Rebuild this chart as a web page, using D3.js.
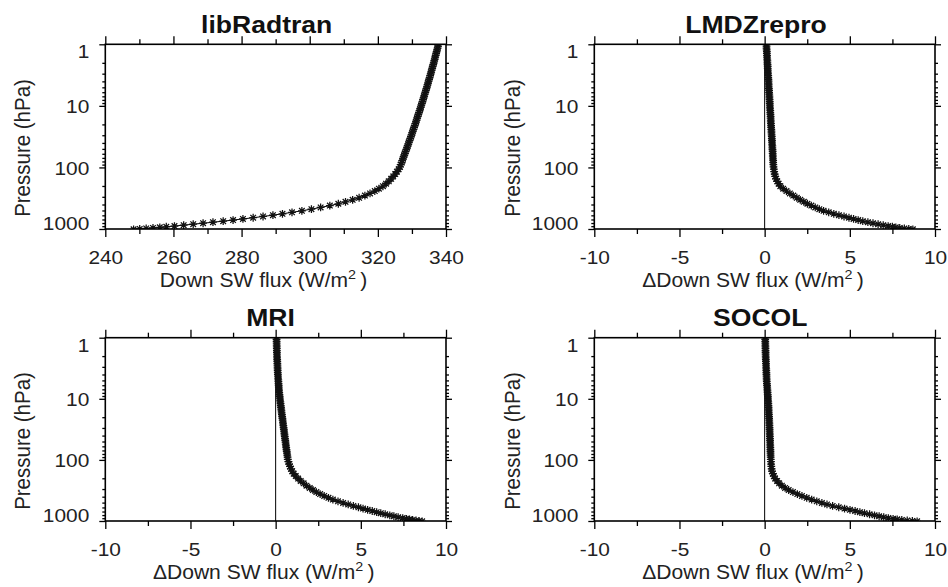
<!DOCTYPE html>
<html><head><meta charset="utf-8">
<script src="https://cdn.jsdelivr.net/npm/d3@7/dist/d3.min.js"></script>
<style>html,body{margin:0;padding:0;background:#fff;}svg{display:block;}</style>
</head><body>
<svg id="chart" width="948" height="587"></svg>
<script>
// ---------------- DATA ----------------
const titles = ["libRadtran", "LMDZrepro", "MRI", "SOCOL"];
const xLabelMain = "Down SW flux (W/m";
const xLabelDelta = "\u0394Down SW flux (W/m";
const yLabel = "Pressure (hPa)";

const yTicks = [1, 10, 100, 1000];
const yMinorTicks = [2,3,4,5,6,7,8,9,20,30,40,50,60,70,80,90,200,300,400,500,600,700,800,900];
const xTicksAbs = [240, 260, 280, 300, 320, 340];
const xMinorAbs = [250, 270, 290, 310, 330];
const xTicksDelta = [-10, -5, 0, 5, 10];
const xMinorDelta = [-7.5, -2.5, 2.5, 7.5];

// pressure levels (hPa), surface -> top
const pressure = [1013,996,978,959,940,920,895,866,836,806,776,746,716,686,656,626,596,566,536,506,
  476,446,417,389,362,336,311,287,264,242,221,202,184,168,153,140,128,117,107,98,90,
  83.2,77.6,72.4,67.6,63.1,58.9,55.0,51.3,47.9,44.7,41.7,38.9,36.3,33.9,31.6,29.5,27.5,25.7,24.0,22.4,
  20.9,19.5,18.2,17.0,15.8,14.8,13.8,12.9,12.0,11.2,10.5,9.77,9.12,8.51,7.94,7.41,6.92,6.46,6.03,5.62,
  5.25,4.90,4.57,4.27,3.98,3.72,3.47,3.24,3.02,2.82,2.63,2.45,2.29,2.14,2.00,1.86,1.74,1.62,1.51,1.41,
  1.32,1.23,1.15,1.07,1.00];

// libRadtran downward SW flux (W/m2)
const fluxLibRadtran = [248.3,250.1,252.0,254.0,256.0,257.9,260.3,263.0,265.8,268.7,271.6,274.6,277.5,280.4,283.4,286.3,289.2,292.0,294.8,297.7,
  300.5,303.2,305.9,308.4,310.5,312.6,314.5,316.2,317.7,319.1,320.3,321.5,322.4,323.2,323.9,324.5,325.1,325.6,326.1,326.5,326.7,
  327.0,327.15,327.35,327.56,327.76,327.96,328.15,328.35,328.55,328.74,328.94,329.13,329.32,329.51,329.7,329.89,330.08,330.26,330.45,330.63,
  330.82,331.0,331.18,331.36,331.54,331.71,331.89,332.07,332.24,332.41,332.59,332.76,332.93,333.1,333.26,333.43,333.6,333.76,333.93,334.09,
  334.25,334.41,334.57,334.73,334.88,335.04,335.2,335.35,335.5,335.65,335.8,335.95,336.1,336.25,336.4,336.54,336.69,336.83,336.97,337.11,
  337.25,337.39,337.53,337.66,337.8];

// model minus libRadtran (W/m2)
const deltaLMDZrepro = [8.70,8.46,8.20,7.93,7.70,7.50,7.25,6.96,6.66,6.36,6.06,5.76,5.49,5.22,4.95,4.66,4.36,4.06,3.76,3.46,
  3.21,2.97,2.74,2.51,2.30,2.09,1.89,1.68,1.48,1.28,1.09,0.92,0.82,0.74,0.67,0.62,0.59,0.56,0.54,0.52,0.51,
  0.50,0.50,0.49,0.48,0.48,0.47,0.47,0.46,0.45,0.45,0.44,0.43,0.43,0.42,0.42,0.41,0.40,0.40,0.39,0.38,
  0.38,0.37,0.36,0.36,0.35,0.35,0.34,0.33,0.33,0.32,0.31,0.31,0.30,0.30,0.29,0.28,0.28,0.27,0.26,0.26,
  0.25,0.24,0.24,0.23,0.23,0.22,0.21,0.21,0.20,0.19,0.19,0.18,0.18,0.17,0.16,0.16,0.15,0.14,0.14,0.13,
  0.13,0.12,0.11,0.11,0.10];

const deltaMRI = [8.60,8.42,8.24,8.04,7.86,7.68,7.46,7.19,6.94,6.70,6.43,6.17,5.93,5.67,5.40,5.13,4.86,4.56,4.26,3.96,
  3.66,3.36,3.10,2.85,2.61,2.39,2.19,2.00,1.81,1.64,1.47,1.32,1.18,1.06,0.97,0.90,0.84,0.79,0.75,0.71,0.70,
  0.68,0.665,0.65,0.635,0.62,0.606,0.592,0.578,0.564,0.55,0.536,0.522,0.508,0.494,0.48,0.466,0.452,0.438,0.424,0.41,
  0.396,0.382,0.368,0.354,0.34,0.327,0.314,0.301,0.288,0.275,0.262,0.249,0.236,0.223,0.21,0.202,0.194,0.186,0.178,0.17,
  0.162,0.154,0.146,0.138,0.13,0.125,0.12,0.115,0.11,0.105,0.10,0.095,0.09,0.085,0.08,0.077,0.074,0.071,0.068,0.065,
  0.062,0.059,0.056,0.053,0.05];

const deltaSOCOL = [8.95,8.67,8.37,8.05,7.78,7.54,7.26,6.99,6.72,6.45,6.16,5.86,5.59,5.31,5.01,4.69,4.35,3.99,3.66,3.36,
  3.06,2.76,2.47,2.19,1.92,1.66,1.41,1.20,1.01,0.85,0.73,0.61,0.54,0.48,0.43,0.41,0.39,0.38,0.37,0.36,0.355,
  0.349,0.345,0.341,0.337,0.333,0.329,0.325,0.321,0.317,0.313,0.308,0.304,0.299,0.295,0.29,0.286,0.281,0.277,0.272,0.268,
  0.263,0.258,0.252,0.246,0.24,0.234,0.228,0.222,0.216,0.21,0.204,0.197,0.189,0.181,0.173,0.165,0.157,0.149,0.141,0.133,
  0.125,0.119,0.114,0.11,0.105,0.101,0.096,0.092,0.087,0.083,0.078,0.074,0.069,0.065,0.06,0.057,0.054,0.051,0.048,0.045,
  0.042,0.039,0.036,0.033,0.03];

// ---------------- LAYOUT ----------------
const FONT = "'Liberation Sans', Arial, Helvetica, sans-serif";
const SX = 1.13;          // horizontal stretch of the reference text
const TICK_FS = 18.5, LABEL_FS = 19.5, YLABEL_FS = 20.5, TITLE_FS = 23.5;

const panels = [
  {title: titles[0], values: fluxLibRadtran, domain: [240, 340], major: xTicksAbs, minor: xMinorAbs, xlab: xLabelMain, zero: false,
   box: [105.3, 446, 44.3, 229], titleX: 266.7, titleY: 33.3, ylabX: 30, ylabY: 148, xlabX: 263.5, xlabY: 286.5},
  {title: titles[1], values: deltaLMDZrepro, domain: [-10, 10], major: xTicksDelta, minor: xMinorDelta, xlab: xLabelDelta, zero: true,
   box: [594.3, 935, 44.3, 229], titleX: 756, titleY: 33.3, ylabX: 519.5, ylabY: 148, xlabX: 753, xlabY: 286.5},
  {title: titles[2], values: deltaMRI, domain: [-10, 10], major: xTicksDelta, minor: xMinorDelta, xlab: xLabelDelta, zero: true,
   box: [105.3, 446, 337.7, 521], titleX: 270.5, titleY: 326, ylabX: 30, ylabY: 441, xlabX: 263.7, xlabY: 578.5},
  {title: titles[3], values: deltaSOCOL, domain: [-10, 10], major: xTicksDelta, minor: xMinorDelta, xlab: xLabelDelta, zero: true,
   box: [594.3, 935, 337.7, 521], titleX: 760.3, titleY: 326, ylabX: 519.5, ylabY: 441, xlabX: 753, xlabY: 578.5}
];

const svg = d3.select("#chart");
const defs = svg.append("defs");

function asterisk(r) {
  const a = r * 0.72;
  return `M${-r},0H${r}M0,${-r}V${r}M${-a},${-a}L${a},${a}M${-a},${a}L${a},${-a}`;
}
const starPath = asterisk(3.9);
const fmtTick = d => String(d);   // plain hyphen-minus as in the reference

panels.forEach((P, i) => {
  const [x0, x1, y0, y1] = P.box;
  const x = d3.scaleLinear().domain(P.domain).range([x0, x1]);
  const y = d3.scaleLog().domain([1, 1000]).range([y0, y1]);
  const g = svg.append("g").attr("class", "panel");

  defs.append("clipPath").attr("id", "clip" + i)
    .append("rect").attr("x", x0).attr("y", y0).attr("width", x1 - x0).attr("height", y1 - y0);

  const data = pressure.map((p, k) => ({p: p, v: P.values[k]}));

  if (P.zero) {
    g.append("line").attr("x1", x(0)).attr("x2", x(0)).attr("y1", y0).attr("y2", y1)
      .attr("stroke", "#000").attr("stroke-width", 1);
  }

  const plot = g.append("g").attr("clip-path", `url(#clip${i})`);
  plot.append("path").datum(data)
    .attr("d", d3.line().x(d => x(d.v)).y(d => y(d.p)))
    .attr("fill", "none").attr("stroke", "#000").attr("stroke-width", 1);
  plot.selectAll("path.mk").data(data).join("path").attr("class", "mk")
    .attr("transform", d => `translate(${x(d.v)},${y(d.p)})`)
    .attr("d", starPath).attr("fill", "none").attr("stroke", "#111").attr("stroke-width", 1.25);

  const styleAxis = sel => {
    sel.select(".domain").remove();
    sel.selectAll("line").attr("stroke", "#000").attr("stroke-width", 1.3);
    sel.selectAll("text").attr("font-family", FONT).attr("font-size", TICK_FS).attr("fill", "#222");
  };
  const xb = g.append("g").attr("transform", `translate(0,${y1})`)
    .call(d3.axisBottom(x).tickValues(P.major).tickSize(8).tickPadding(14).tickFormat(fmtTick));
  styleAxis(xb);
  xb.selectAll("text").attr("transform", `scale(${SX},1)`);
  g.append("g").attr("transform", `translate(0,${y1})`)
    .call(d3.axisBottom(x).tickValues(P.minor).tickSize(5).tickFormat("")).call(styleAxis);
  g.append("g").attr("transform", `translate(0,${y0})`)
    .call(d3.axisTop(x).tickValues(P.major).tickSize(8).tickFormat("")).call(styleAxis);
  g.append("g").attr("transform", `translate(0,${y0})`)
    .call(d3.axisTop(x).tickValues(P.minor).tickSize(5).tickFormat("")).call(styleAxis);

  const yl = g.append("g").attr("transform", `translate(${x0},0)`)
    .call(d3.axisLeft(y).tickValues(yTicks).tickSize(6).tickPadding(10).tickFormat(fmtTick));
  styleAxis(yl);
  yl.selectAll("text").attr("x", -16 / SX).attr("transform", `scale(${SX},1)`)
    .attr("dy", d => d === 1 ? "0.72em" : (d === 1000 ? "0em" : "0.36em"));
  g.append("g").attr("transform", `translate(${x0},0)`)
    .call(d3.axisLeft(y).tickValues(yMinorTicks).tickSize(3).tickFormat("")).call(styleAxis);
  g.append("g").attr("transform", `translate(${x1},0)`)
    .call(d3.axisRight(y).tickValues(yTicks).tickSize(6).tickFormat("")).call(styleAxis);
  g.append("g").attr("transform", `translate(${x1},0)`)
    .call(d3.axisRight(y).tickValues(yMinorTicks).tickSize(3).tickFormat("")).call(styleAxis);

  g.append("rect").attr("x", x0).attr("y", y0).attr("width", x1 - x0).attr("height", y1 - y0)
    .attr("fill", "none").attr("stroke", "#000").attr("stroke-width", 1.6);

  g.append("text").attr("transform", `translate(${P.titleX},${P.titleY}) scale(${SX},1)`)
    .attr("text-anchor", "middle").attr("font-family", FONT).attr("font-weight", "bold")
    .attr("font-size", TITLE_FS).attr("fill", "#111").text(P.title);

  const xt = g.append("text").attr("transform", `translate(${P.xlabX},${P.xlabY}) scale(1.08,1)`)
    .attr("text-anchor", "middle").attr("font-family", FONT).attr("font-size", LABEL_FS).attr("fill", "#222");
  xt.append("tspan").text(P.xlab);
  xt.append("tspan").attr("font-size", LABEL_FS * 0.68).attr("dy", -8).text("2");
  xt.append("tspan").attr("dy", 8).text("\u2009)");

  g.append("text").attr("transform", `translate(${P.ylabX},${P.ylabY}) rotate(-90) scale(1,1.05)`)
    .attr("text-anchor", "middle").attr("font-family", FONT).attr("font-size", YLABEL_FS).attr("fill", "#222")
    .text(yLabel);
});
</script>
</body></html>
